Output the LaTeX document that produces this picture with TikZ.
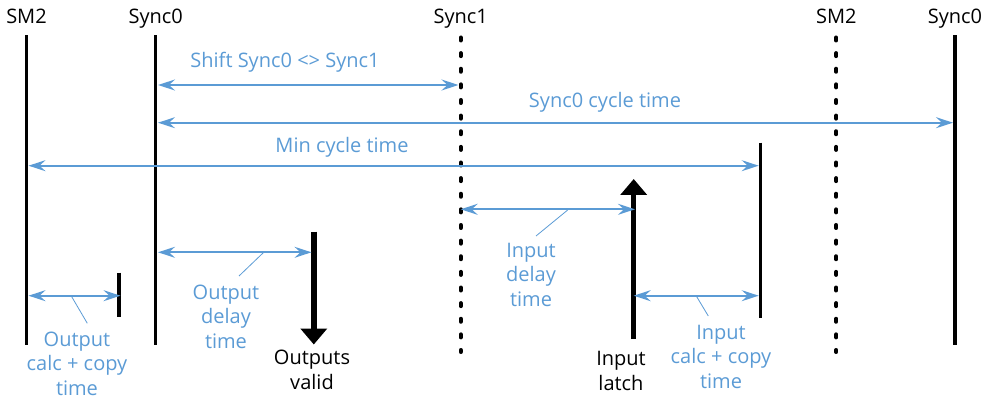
\documentclass[tikz,border=0pt]{standalone}
\usepackage{fontspec}
\setmainfont{Open Sans}
\usetikzlibrary{arrows.meta}
\definecolor{lblue}{HTML}{5B9BD5}
\begin{document}
\begin{tikzpicture}[x=1pt,y=-1pt,
  vline/.style={line width=3.5pt},
  dline/.style={line width=4pt, line cap=round, dash pattern=on 3pt off 12.625pt},
  span/.style={lblue, line width=1.8pt, {Stealth[length=17pt,width=11pt,inset=6pt]}-{Stealth[length=17pt,width=11pt,inset=6pt]}},
  lead/.style={lblue, line width=0.8pt},
  lbl/.style={font=\fontsize{20}{24.5}\selectfont, align=center, inner sep=0pt, anchor=base},
  blbl/.style={lbl, text=lblue},
  bigarrow/.style={line width=5.5pt, -{Triangle[width=26pt,length=16pt]}}
]
\useasboundingbox (0,0) rectangle (988,398);
% vertical lines
\coordinate (sm2t) at (26.5,35.5);   \coordinate (sm2b) at (26.5,345);
\coordinate (s0t) at (155.7,35.5);   \coordinate (s0b) at (155.7,345);
\coordinate (s1t) at (460.7,37.5);   \coordinate (s1b) at (460.7,352);
\coordinate (sm2rt) at (836.3,37.5); \coordinate (sm2rb) at (836.3,352);
\coordinate (s0rt) at (955,35.5);    \coordinate (s0rb) at (955,345);
\coordinate (oct) at (119,272.7);    \coordinate (ocb) at (119,317.3);
\coordinate (ict) at (760.5,142.7);  \coordinate (icb) at (760.5,318);
\draw[vline] (sm2t) -- (sm2b);
\draw[vline] (s0t) -- (s0b);
\draw[dline] (s1t) -- (s1b);
\draw[dline] (sm2rt) -- (sm2rb);
\draw[vline] (s0rt) -- (s0rb);
\draw[vline] (oct) -- (ocb);
\draw[vline] (ict) -- (icb);
% big arrows
\coordinate (ovt) at (313.8,231.7); \coordinate (ovb) at (313.8,344.5);
\coordinate (ilb) at (633.7,339);   \coordinate (ilt) at (633.7,179);
\draw[bigarrow] (ovt) -- (ovb);
\draw[bigarrow] (ilb) -- (ilt);
% top labels
\node[lbl] (lsm2) at (26.5,23.5) {SM2};
\node[lbl] (ls0) at (155.7,23.5) {Sync0};
\node[lbl] (ls1) at (460.7,23.5) {Sync1};
\node[lbl] (lsm2r) at (836.3,23.5) {SM2};
\node[lbl] (ls0r) at (955,23.5) {Sync0};
% spans
\coordinate (a1) at (158,85);    \coordinate (a2) at (458.5,85);
\coordinate (b1) at (158,122.7); \coordinate (b2) at (953,122.7);
\coordinate (c1) at (28.5,165.7);  \coordinate (c2) at (758.7,165.7);
\coordinate (d1) at (460.7,209.3); \coordinate (d2) at (635,209.3);
\coordinate (e1) at (633.7,295.7); \coordinate (e2) at (758.7,295.7);
\coordinate (f1) at (158,252.3);   \coordinate (f2) at (311.5,252.3);
\coordinate (g1) at (28.5,295.7);  \coordinate (g2) at (120.5,295.7);
\draw[span] (a1) -- (a2);
\draw[span] (b1) -- (b2);
\draw[span] (c1) -- (c2);
\draw[span] (d1) -- (d2);
\draw[span] (e1) -- (e2);
\draw[span] (f1) -- (f2);
\draw[span] (g1) -- (g2);
% span labels (multi-line: base = last line)
\node[blbl] (tshift) at (285,67.7) {Shift Sync0 <> Sync1};
\node[blbl] (tcyc) at (605,107.5) {Sync0 cycle time};
\node[blbl] (tmin) at (342,152.7) {Min cycle time};
\node[blbl] (toc) at (77,395) {Output\\calc + copy\\time};
\node[blbl] (tod) at (226,348) {Output\\delay\\time};
\node[blbl] (tid) at (531,306) {Input\\delay\\time};
\node[blbl] (tic) at (721,388) {Input\\calc + copy\\time};
\node[lbl] (tov) at (312,389) {Outputs\\valid};
\node[lbl] (til) at (621,390) {Input\\latch};
% leaders
\coordinate (h1) at (71.7,296.7);  \coordinate (h2) at (87.3,323.3);
\coordinate (i1) at (263.3,252.7); \coordinate (i2) at (239,276);
\coordinate (j1) at (567.7,210);   \coordinate (j2) at (536,236);
\coordinate (k1) at (696.7,296.7); \coordinate (k2) at (708.3,316);
\draw[lead] (h1) -- (h2);
\draw[lead] (i1) -- (i2);
\draw[lead] (j1) -- (j2);
\draw[lead] (k1) -- (k2);
\end{tikzpicture}
\end{document}
